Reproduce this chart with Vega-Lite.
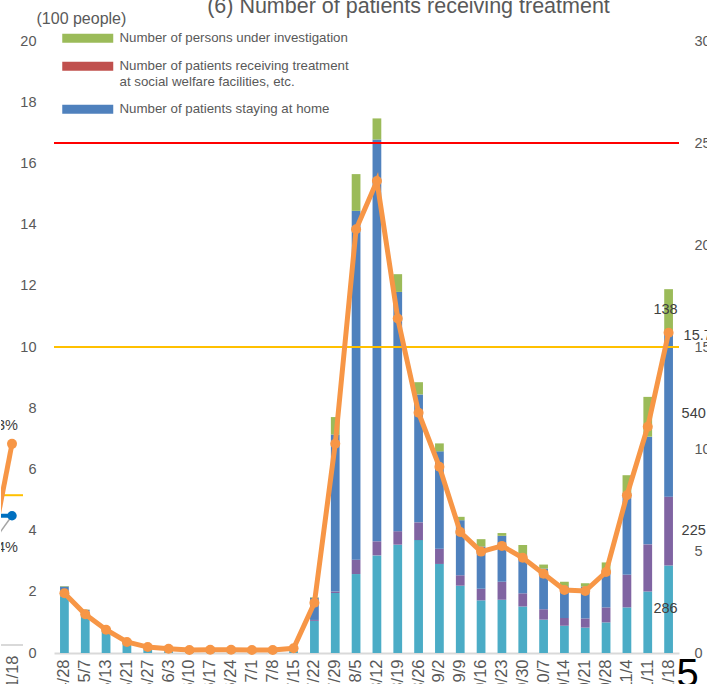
{
  "$schema": "https://vega.github.io/schema/vega-lite/v6.json",
  "padding": {"left": 0, "top": -5, "right": 0, "bottom": 0},
  "background": "white",
  "config": {
    "view": {"stroke": null},
    "font": "Liberation Sans",
    "axis": {"grid": false, "ticks": false, "domain": false, "labelFont": "Liberation Sans", "labelFontSize": 14.5, "labelColor": "#595959"}
  },
  "datasets": {
    "weekly": [
      {"date": "4/28", "hospitalized": 185, "welfare": 2, "home": 30, "investigation": 2, "rate": 2.93},
      {"date": "5/7", "hospitalized": 136, "welfare": 1, "home": 4, "investigation": 1, "rate": 1.90},
      {"date": "5/13", "hospitalized": 76, "welfare": 0, "home": 5, "investigation": 0, "rate": 1.14},
      {"date": "5/21", "hospitalized": 40, "welfare": 0, "home": 3, "investigation": 0, "rate": 0.54},
      {"date": "5/27", "hospitalized": 12, "welfare": 0, "home": 1, "investigation": 0, "rate": 0.29},
      {"date": "6/3", "hospitalized": 6, "welfare": 0, "home": 1, "investigation": 0, "rate": 0.21},
      {"date": "6/10", "hospitalized": 4, "welfare": 0, "home": 0, "investigation": 0, "rate": 0.15},
      {"date": "6/17", "hospitalized": 3, "welfare": 0, "home": 0, "investigation": 0, "rate": 0.16},
      {"date": "6/24", "hospitalized": 3, "welfare": 0, "home": 0, "investigation": 0, "rate": 0.16},
      {"date": "7/1", "hospitalized": 3, "welfare": 0, "home": 0, "investigation": 0, "rate": 0.15},
      {"date": "7/8", "hospitalized": 3, "welfare": 0, "home": 0, "investigation": 0, "rate": 0.15},
      {"date": "7/15", "hospitalized": 6, "welfare": 0, "home": 1, "investigation": 0, "rate": 0.23},
      {"date": "7/22", "hospitalized": 105, "welfare": 3, "home": 72, "investigation": 2, "rate": 2.46},
      {"date": "7/29", "hospitalized": 196, "welfare": 5, "home": 513, "investigation": 57, "rate": 10.26},
      {"date": "8/5", "hospitalized": 258, "welfare": 47, "home": 1140, "investigation": 120, "rate": 20.77},
      {"date": "8/12", "hospitalized": 319, "welfare": 46, "home": 1313, "investigation": 69, "rate": 23.14},
      {"date": "8/19", "hospitalized": 354, "welfare": 44, "home": 782, "investigation": 58, "rate": 16.4},
      {"date": "8/26", "hospitalized": 369, "welfare": 58, "home": 418, "investigation": 40, "rate": 11.78},
      {"date": "9/2", "hospitalized": 291, "welfare": 50, "home": 318, "investigation": 26, "rate": 9.13},
      {"date": "9/9", "hospitalized": 220, "welfare": 34, "home": 180, "investigation": 11, "rate": 5.93},
      {"date": "9/16", "hospitalized": 172, "welfare": 38, "home": 138, "investigation": 24, "rate": 4.97},
      {"date": "9/23", "hospitalized": 174, "welfare": 59, "home": 150, "investigation": 9, "rate": 5.25},
      {"date": "9/30", "hospitalized": 152, "welfare": 43, "home": 128, "investigation": 30, "rate": 4.67},
      {"date": "10/7", "hospitalized": 109, "welfare": 34, "home": 133, "investigation": 13, "rate": 3.89},
      {"date": "10/14", "hospitalized": 89, "welfare": 25, "home": 104, "investigation": 15, "rate": 3.09},
      {"date": "10/21", "hospitalized": 83, "welfare": 30, "home": 104, "investigation": 11, "rate": 3.04},
      {"date": "10/28", "hospitalized": 100, "welfare": 49, "home": 123, "investigation": 24, "rate": 3.97},
      {"date": "11/4", "hospitalized": 149, "welfare": 107, "home": 267, "investigation": 58, "rate": 7.73},
      {"date": "11/11", "hospitalized": 201, "welfare": 154, "home": 352, "investigation": 130, "rate": 11.09},
      {"date": "11/18", "hospitalized": 286, "welfare": 225, "home": 540, "investigation": 138, "rate": 15.7}
    ],
    "seriesInfo": [
      {"series": "hospitalized", "rank": 1},
      {"series": "welfare", "rank": 2},
      {"series": "home", "rank": 3},
      {"series": "investigation", "rank": 4}
    ],
    "legendItems": [
      {"item": "Number of persons under investigation"},
      {"item": "Number of patients receiving treatment|at social welfare facilities, etc."},
      {"item": "Number of patients staying at home"}
    ],
    "fragment": [
      {"week": "1/11", "series": "orange", "rate": 1.53, "label": ""},
      {"week": "1/18", "series": "orange", "rate": 3.33, "label": "3%"},
      {"week": "1/11", "series": "blue", "rate": 2.14, "label": ""},
      {"week": "1/18", "series": "blue", "rate": 2.14, "label": "4%"},
      {"week": "1/11", "series": "grey", "rate": 1.66, "label": ""},
      {"week": "1/18", "series": "grey", "rate": 2.14, "label": ""}
    ]
  },
  "bounds": "flush",
  "spacing": 31,
  "hconcat": [
    {
      "width": 22,
      "height": 604,
      "layer": [
        {
          "data": {"values": [{}]},
          "mark": {"type": "rule", "color": "#D9D9D9", "strokeWidth": 2},
          "encoding": {"y": {"datum": 0, "type": "quantitative", "scale": {"domain": [0, 10]}, "axis": null}}
        },
        {
          "data": {"values": [{}]},
          "mark": {"type": "rule", "color": "#FFC000", "strokeWidth": 2},
          "encoding": {"y": {"datum": 2.48, "type": "quantitative"}}
        },
        {
          "data": {"name": "fragment"},
          "transform": [{"filter": "datum.series == 'grey'"}],
          "mark": {"type": "line", "clip": true, "strokeWidth": 1.5, "color": "#A5A5A5"},
          "encoding": {
            "x": {"field": "week", "type": "ordinal", "sort": null, "scale": {"type": "point", "domain": ["1/11", "1/18"], "range": [-10, 11], "padding": 0}, "axis": {"values": ["1/18"], "labelAngle": 270, "labelPadding": 10, "labelFontSize": 16.5, "title": null}},
            "y": {"field": "rate", "type": "quantitative"}
          }
        },
        {
          "data": {"name": "fragment"},
          "transform": [{"filter": "datum.series == 'blue'"}],
          "mark": {"type": "line", "clip": true, "strokeWidth": 4, "color": "#0070C0", "point": {"filled": true, "size": 90, "color": "#0070C0"}},
          "encoding": {
            "x": {"field": "week", "type": "ordinal", "sort": null},
            "y": {"field": "rate", "type": "quantitative"}
          }
        },
        {
          "data": {"name": "fragment"},
          "transform": [{"filter": "datum.series == 'orange'"}],
          "mark": {"type": "line", "clip": true, "strokeWidth": 5, "color": "#F79646", "point": {"filled": true, "size": 100, "color": "#F79646"}},
          "encoding": {
            "x": {"field": "week", "type": "ordinal", "sort": null},
            "y": {"field": "rate", "type": "quantitative"}
          }
        },
        {
          "data": {"name": "fragment"},
          "transform": [{"filter": "datum.series == 'orange' && datum.label != ''"}],
          "mark": {"type": "text", "clip": true, "align": "right", "dx": 6, "dy": -18, "fontSize": 14.5, "color": "#404040"},
          "encoding": {
            "x": {"field": "week", "type": "ordinal", "sort": null},
            "y": {"field": "rate", "type": "quantitative"},
            "text": {"field": "label"}
          }
        },
        {
          "data": {"name": "fragment"},
          "transform": [{"filter": "datum.series == 'blue' && datum.label != ''"}],
          "mark": {"type": "text", "clip": true, "align": "right", "dx": 6, "dy": 32, "fontSize": 14.5, "color": "#404040"},
          "encoding": {
            "x": {"field": "week", "type": "ordinal", "sort": null},
            "y": {"field": "rate", "type": "quantitative"},
            "text": {"field": "label"}
          }
        }
      ]
    },
    {
      "width": 625,
      "height": 612,
      "title": {"text": "(6) Number of patients receiving treatment", "font": "Liberation Sans", "fontSize": 21.5, "fontWeight": "normal", "color": "#595959", "anchor": "middle", "frame": "group", "dx": 42, "offset": -7},
      "layer": [
        {
          "layer": [
            {
              "data": {"name": "weekly"},
              "transform": [
                {"fold": ["hospitalized", "welfare", "home", "investigation"], "as": ["series", "people"]},
                {"lookup": "series", "from": {"data": {"name": "seriesInfo"}, "key": "series", "fields": ["rank"]}}
              ],
              "mark": {"type": "bar"},
              "encoding": {
                "x": {"field": "date", "type": "nominal", "sort": null, "scale": {"paddingInner": 0.58, "paddingOuter": 0.29},
                  "axis": {"title": "5", "labelAngle": 270, "labelPadding": 6, "labelFontSize": 16.5, "domain": true, "domainColor": "#D9D9D9", "domainWidth": 2,
                    "titleX": 622, "titleY": 33, "titleAlign": "left", "titleBaseline": "alphabetic", "titleAngle": 0, "titleFontSize": 40, "titleFont": "Liberation Sans", "titleFontWeight": "normal", "titleColor": "#000000"}},
                "y": {"field": "people", "type": "quantitative", "stack": "zero", "scale": {"domain": [0, 2000], "nice": false},
                  "axis": {"orient": "left", "values": [0, 200, 400, 600, 800, 1000, 1200, 1400, 1600, 1800, 2000], "labelExpr": "datum.value / 100", "labelPadding": 18,
                    "title": "(100 people)", "titleAngle": 0, "titleAlign": "left", "titleBaseline": "middle", "titleX": -18, "titleY": -23, "titleFont": "Liberation Sans", "titleFontSize": 16, "titleFontWeight": "normal", "titleColor": "#595959"}},
                "color": {"field": "series", "type": "nominal", "scale": {"domain": ["hospitalized", "welfare", "home", "investigation"], "range": ["#4BACC6", "#8064A2", "#4F81BD", "#9BBB59"]}, "legend": null},
                "order": {"field": "rank", "type": "quantitative"}
              }
            },
            {
              "data": {"name": "weekly"},
              "transform": [
                {"filter": "datum.date == '11/18'"},
                {"fold": ["hospitalized", "welfare", "home", "investigation"], "as": ["series", "people"]},
                {"lookup": "series", "from": {"data": {"name": "seriesInfo"}, "key": "series", "fields": ["rank"]}},
                {"stack": "people", "groupby": ["date"], "sort": [{"field": "rank", "order": "ascending"}], "as": ["p0", "p1"]},
                {"fold": ["p0", "p1"], "as": ["edge", "pos"]},
                {"aggregate": [{"op": "mean", "field": "pos", "as": "mid"}], "groupby": ["date", "series", "people"]}
              ],
              "layer": [
                {
                  "transform": [{"filter": "datum.series == 'hospitalized' || datum.series == 'investigation'"}],
                  "mark": {"type": "text", "align": "center", "baseline": "middle", "dx": -3, "fontSize": 14.5, "color": "#404040"},
                  "encoding": {
                    "x": {"field": "date", "type": "nominal", "sort": null},
                    "y": {"field": "mid", "type": "quantitative", "stack": null},
                    "text": {"field": "people", "type": "quantitative"}
                  }
                },
                {
                  "transform": [{"filter": "datum.series == 'home' || datum.series == 'welfare'"}],
                  "mark": {"type": "text", "align": "left", "baseline": "middle", "dx": 13, "fontSize": 14.5, "color": "#404040"},
                  "encoding": {
                    "x": {"field": "date", "type": "nominal", "sort": null},
                    "y": {"field": "mid", "type": "quantitative", "stack": null},
                    "text": {"field": "people", "type": "quantitative"}
                  }
                }
              ]
            }
          ]
        },
        {
          "layer": [
            {
              "data": {"values": [{}]},
              "mark": {"type": "rule", "color": "#FF0000", "strokeWidth": 2},
              "encoding": {"y": {"datum": 25, "type": "quantitative"}}
            },
            {
              "data": {"values": [{}]},
              "mark": {"type": "rule", "color": "#FFC000", "strokeWidth": 2},
              "encoding": {"y": {"datum": 15, "type": "quantitative"}}
            },
            {
              "data": {"name": "weekly"},
              "mark": {"type": "line", "color": "#F79646", "strokeWidth": 5, "point": {"filled": true, "size": 100, "color": "#F79646"}},
              "encoding": {
                "x": {"field": "date", "type": "nominal", "sort": null},
                "y": {"field": "rate", "type": "quantitative", "scale": {"domain": [0, 30], "nice": false},
                  "axis": {"orient": "right", "values": [0, 5, 10, 15, 20, 25, 30], "labelPadding": 15, "title": null}}
              }
            },
            {
              "data": {"name": "weekly"},
              "transform": [{"filter": "datum.date == '11/18'"}],
              "mark": {"type": "text", "align": "left", "baseline": "middle", "dx": 15, "dy": 3, "fontSize": 14.5, "color": "#404040"},
              "encoding": {
                "x": {"field": "date", "type": "nominal", "sort": null},
                "y": {"field": "rate", "type": "quantitative"},
                "text": {"field": "rate", "type": "quantitative", "format": ".1f"}
              }
            },
            {
              "data": {"name": "legendItems"},
              "mark": {"type": "bar"},
              "encoding": {
                "y": {"datum": 0, "type": "quantitative"},
                "y2": {"datum": 0},
                "color": {"field": "item", "type": "nominal", "sort": null,
                  "scale": {"domain": ["Number of persons under investigation", "Number of patients receiving treatment|at social welfare facilities, etc.", "Number of patients staying at home"], "range": ["#9BBB59", "#C0504D", "#4F81BD"]},
                  "legend": {"orient": "none", "legendX": 20.75, "legendY": -15.75, "title": null, "symbolType": "M-2,-0.35H2V0.35H-2Z", "symbolSize": 650, "symbolStrokeWidth": 0, "symbolOpacity": 1,
                    "labelFont": "Liberation Sans", "labelFontSize": 13.3, "labelColor": "#595959", "labelLimit": 400, "labelOffset": 18.75, "rowPadding": 8, "padding": 0,
                    "labelExpr": "split(datum.label, '|')"}}
              }
            }
          ]
        }
      ],
      "resolve": {"scale": {"y": "independent", "color": "independent"}}
    }
  ]
}
